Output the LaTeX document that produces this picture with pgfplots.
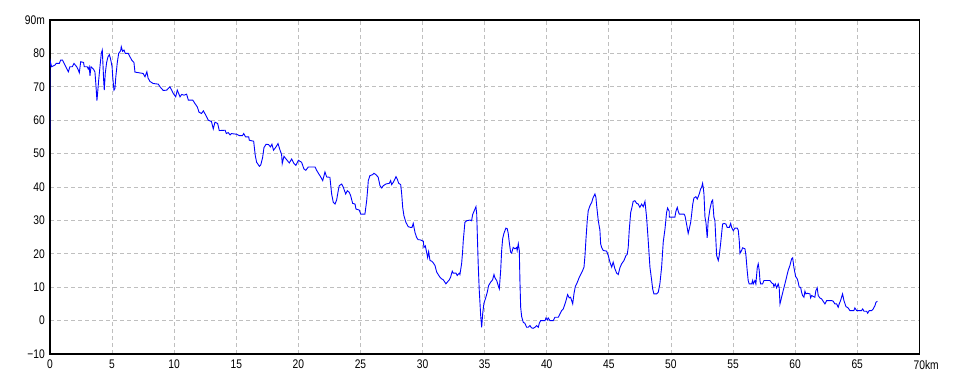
\documentclass[border=0pt]{standalone}
\usepackage{fontspec}
\setmainfont{Liberation Sans}
\usepackage{graphicx}
\usepackage{pgfplots}
\pgfplotsset{compat=1.18}
\newcommand{\T}[1]{\scalebox{0.82}[1]{#1}}
\begin{document}
\begin{tikzpicture}[x=1pt,y=1pt]
\useasboundingbox (0,0) rectangle (960,384);
\begin{axis}[
  at={(50pt,30pt)}, anchor=south west,
  scale only axis, width=869.3pt, height=334pt,
  xmin=0, xmax=70, ymin=-10, ymax=90,
  xtick={0,5,...,70}, ytick={-10,0,...,90},
  xticklabels={\T{0},\T{5},\T{10},\T{15},\T{20},\T{25},\T{30},\T{35},\T{40},\T{45},\T{50},\T{55},\T{60},\T{65},\T{70}\rlap{\T{km}}},
  yticklabels={\T{−10},\T{0},\T{10},\T{20},\T{30},\T{40},\T{50},\T{60},\T{70},\T{80},\T{90m}},
  major tick length=0pt,
  tick label style={font=\fontsize{12.5}{13}\selectfont, inner sep=0pt},
  xticklabel style={anchor=north, yshift=-6pt},
  yticklabel style={anchor=east, xshift=-5pt},
  grid=major,
  major grid style={color=black!25, line width=0.8pt, dash pattern=on 4pt off 3pt},
  axis line style={black, line width=1.5pt},
  clip=true,
]
\addplot[color={rgb,255:red,0;green,0;blue,255}, line width=0.9pt] coordinates {
(0,57) (0,78) (0.13,76) (0.4,76.5) (0.5,77) (0.75,77) (0.86,78) (1.0,78) (1.1,77.3) (1.34,75.5) (1.48,74.5) (1.6,76) (1.8,76) (1.93,77) (2.15,76) (2.28,75) (2.36,74.2) (2.47,77.5) (2.7,77.3) (2.76,76) (3.0,76) (3.08,75.3) (3.16,76) (3.22,73.3) (3.3,76) (3.5,75.3) (3.62,74.4) (3.7,70.4) (3.78,65.9) (3.84,68.4) (3.92,72) (4.03,76.3) (4.13,80) (4.21,81) (4.27,76.3) (4.32,72) (4.37,69) (4.45,74) (4.56,77.3) (4.67,79) (4.78,79.6) (4.88,78.3) (5.0,76) (5.05,73) (5.15,69) (5.23,69.5) (5.3,73) (5.42,77.3) (5.53,80) (5.69,80.8) (5.74,82) (5.85,80.6) (5.96,81) (6.06,80) (6.3,80) (6.44,79) (6.58,78) (6.76,77.3) (6.84,74.4) (7.5,74) (7.65,73) (7.8,74.5) (7.9,72.6) (8.05,71.6) (8.3,71) (8.72,70.8) (8.86,70) (9.12,68.9) (9.4,69) (9.5,69.4) (9.66,70) (9.8,69) (9.93,68) (10.12,67) (10.25,69) (10.47,67) (10.6,67.7) (10.8,67.5) (11.0,67.8) (11.14,66) (11.5,66) (11.67,65) (11.86,64) (12.0,62.4) (12.2,62) (12.35,62.8) (12.5,61.8) (12.67,60.6) (12.75,60) (13.0,59.6) (13.15,57.4) (13.28,59.4) (13.5,59) (13.63,56.9) (14.1,57) (14.2,56) (14.35,56.3) (14.5,55.6) (14.6,56) (15.03,55.8) (15.25,55.4) (15.5,55.4) (15.6,56) (15.75,55) (16.0,55) (16.05,54) (16.4,53.7) (16.45,52) (16.53,49.4) (16.64,47.4) (16.86,46.2) (16.97,46.6) (17.12,48.8) (17.23,51.8) (17.4,52.8) (17.6,52.7) (17.75,52) (17.87,52.8) (18.0,51) (18.2,52) (18.36,53) (18.5,51.3) (18.65,49.7) (18.7,47) (18.84,49.2) (19.05,48.2) (19.27,47.2) (19.46,48.4) (19.65,47) (19.8,46.5) (20.0,48) (20.26,47.4) (20.45,45.4) (20.6,45) (20.8,46) (21.0,46) (21.34,46) (21.47,45) (21.68,43.7)
(21.74,43.4) (21.96,41.9) (22.14,44.5) (22.28,43) (22.54,42.9)
(22.68,37.9) (22.81,35.4) (22.95,34.9) (23.08,36.1) (23.21,38.9) (23.29,40.4) (23.49,40.9) (23.62,39.9) (23.81,37.9) (23.94,38.9) (24.1,38.4) (24.21,37.4) (24.37,35.1) (24.56,34.9) (24.64,33.4) (24.9,33.1) (25.02,31.9) (25.36,31.9) (25.5,35.9) (25.58,39.4) (25.63,41.9) (25.76,43.4) (25.98,43.7) (26.09,44.1) (26.25,43.7) (26.43,42.9) (26.57,40.4) (26.71,39.7) (26.84,40.4) (27.05,40.9) (27.32,41.1) (27.43,41.9) (27.51,40.7) (27.64,41.4) (27.78,42.4) (27.86,43.1) (27.96,42.4) (28.08,41.1) (28.24,40.7) (28.32,37.9) (28.4,33.9) (28.5,31.4) (28.66,29.4) (28.85,28.1) (29.04,27.9) (29.15,27.9) (29.25,29.1) (29.39,26.4) (29.52,24.9) (29.65,24.2) (29.79,24.2) (30.06,23.8) (30.11,21.9) (30.22,22.4) (30.33,20.4) (30.41,18.9) (30.49,20.6) (30.6,18) (30.73,17.8) (30.86,17.3) (31.0,16.5) (31.14,14.5) (31.26,13.8) (31.4,13) (31.54,12.5) (31.67,12.2) (31.8,11.5) (31.88,11) (31.99,11.5) (32.15,12.2) (32.26,13) (32.39,14.8) (32.47,14.2) (32.69,14.2) (32.79,13.5) (32.95,14.2) (33.01,13.8) (33.15,17.2) (33.23,21) (33.28,24) (33.41,29.4) (33.55,29.9) (33.82,30.1) (33.95,29.9) (34.03,31.7) (34.14,32.7) (34.22,33.4) (34.3,34.1) (34.36,31.9) (34.48,17) (34.56,9.5) (34.68,1.5) (34.76,-2) (34.84,2) (34.94,5.2) (35.1,7) (35.21,8.5) (35.32,10.5) (35.48,11.5) (35.64,12.2) (35.75,13.8) (35.83,12.8) (35.97,12) (36.09,10.5) (36.18,9.5) (36.29,15) (36.37,21) (36.45,24.5) (36.55,26.1) (36.71,27.7) (36.82,27.5) (36.9,26.1) (36.98,23.5) (37.09,20.5) (37.17,20.2) (37.3,21.9) (37.44,21.5) (37.58,21.9) (37.62,21) (37.71,23) (37.79,21) (37.84,12) (37.9,4) (37.98,1.2) (38.11,-0.5) (38.24,-0.8) (38.38,-2) (38.51,-2) (38.65,-1.5) (38.78,-2.2) (38.91,-2.3) (39.05,-2) (39.19,-1.5) (39.32,-2) (39.4,-0.8) (39.51,0) (39.72,0) (39.86,0) (39.94,0.8) (40.04,0.2) (40.12,0.8) (40.26,0) (40.39,0) (40.52,0) (40.66,1) (40.93,1) (41.06,2) (41.2,3) (41.33,3.5) (41.47,5) (41.55,6) (41.68,7.8) (41.81,6.8) (41.92,7) (42.09,5) (42.19,8) (42.3,10.2) (42.41,11) (42.54,12.2) (42.62,13) (42.73,13.8) (42.89,15) (43.0,16) (43.08,19.5) (43.16,24.5) (43.26,29.9) (43.34,32.9) (43.48,34.4) (43.62,35.4) (43.74,36.9) (43.88,37.9) (43.96,36.9) (44.02,34.4) (44.15,29.9) (44.28,27.1) (44.34,23) (44.42,21.9)
(44.55,21) (44.82,20.8) (44.95,19.5) (45.09,17.5) (45.23,16) (45.35,17.5) (45.49,15.5) (45.63,14.2) (45.76,13.8) (45.89,15.8) (46.03,17) (46.22,18) (46.38,19.5) (46.48,19.8) (46.56,21.9) (46.64,26.9) (46.76,32.4) (46.86,33.9) (46.96,35.7) (47.1,35.9) (47.24,35.1) (47.37,34.9) (47.5,33.9) (47.64,34.9) (47.77,34.1) (47.91,35.7) (48.04,30.9) (48.17,24) (48.31,16) (48.45,12) (48.53,9.5) (48.63,8) (48.85,8) (48.98,8.5) (49.11,11) (49.25,16) (49.38,23.5) (49.52,27.4) (49.65,32.4) (49.73,33.7) (49.86,32.7) (49.87,31) (50.32,31) (50.4,32.7) (50.51,33.9) (50.59,32.7) (50.67,31.9) (51.05,31.9) (51.13,31.4) (51.26,28.9) (51.39,26.1) (51.47,27.4) (51.59,29.4) (51.67,31.9) (51.75,34.7) (51.85,36.7) (52.01,37.1) (52.12,36.4) (52.28,37.9) (52.39,39.4) (52.47,39.9) (52.55,41.1) (52.6,39.9) (52.66,37.9) (52.74,31) (52.82,29.4) (52.87,27.1) (52.92,24.8) (53.0,29.9) (53.14,33.4) (53.28,35.7) (53.36,36.1) (53.46,31) (53.54,30) (53.62,24) (53.68,19.5) (53.81,18) (53.89,19.5) (54.0,23) (54.08,26) (54.16,28.9) (54.27,29.1) (54.43,28.9) (54.53,27.9) (54.7,27.9) (54.81,29.1) (54.89,27.9) (55.02,26.9) (55.15,27.7) (55.34,27.7) (55.42,27.1) (55.5,24) (55.56,20.1) (55.69,21) (55.77,21.8) (55.96,21.5) (56.04,19.5) (56.14,15) (56.22,12) (56.3,11) (56.5,11) (56.58,12) (56.63,11) (56.76,12) (56.84,11) (56.95,15.8) (57.03,17) (57.11,15) (57.17,12) (57.22,11) (57.38,11) (57.49,12) (57.97,12) (58.11,11.3) (58.24,11) (58.29,10.2) (58.4,11) (58.51,9.8) (58.64,11) (58.72,9.8) (58.78,5) (58.91,7) (59.04,9) (59.18,11) (59.31,13) (59.44,15) (59.58,16.5) (59.72,18.5) (59.8,18.8) (59.9,16) (60.04,13.2) (60.17,12.5) (60.25,11.5) (60.33,10) (60.44,10) (60.52,8.5) (60.6,7.5) (60.71,7) (60.79,8.8) (60.87,8) (60.97,8.2) (61.19,8) (61.25,6.8) (61.33,7.5) (61.59,7) (61.67,9) (61.78,9.8) (61.86,7.5) (61.99,6.8) (62.13,6.5) (62.26,5.8) (62.4,5) (62.54,6) (62.94,6) (63.07,5.8) (63.2,5) (63.34,5) (63.47,4) (63.55,5) (63.66,6) (63.82,8) (63.93,6) (64.09,4.2) (64.27,3.8) (64.41,3) (64.73,3) (64.81,3.8) (64.95,3) (65.35,3) (65.44,3.5) (65.54,2.8) (65.76,2.8) (65.84,2.2) (65.97,3) (66.16,3) (66.29,3.5) (66.43,4.5) (66.51,5.5) (66.63,5.8)
};
\end{axis}
\end{tikzpicture}
\end{document}
